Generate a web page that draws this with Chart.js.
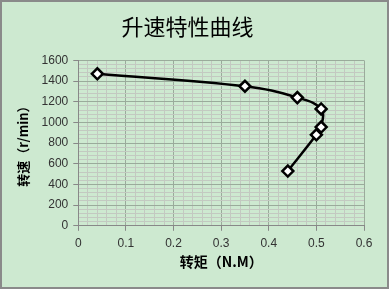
<!DOCTYPE html>
<html><head><meta charset="utf-8">
<script src="https://cdn.jsdelivr.net/npm/chart.js@4/dist/chart.umd.min.js"></script>
<style>html,body{margin:0;padding:0;background:#cde9d0;}#wrap{width:389px;height:289px;}</style>
</head><body><div id="wrap"><canvas id="c" width="389" height="289"></canvas></div>
<script>
const torque = [0.04, 0.35, 0.46, 0.51, 0.51, 0.50, 0.44];
const speed = [1470, 1350, 1240, 1130, 955, 880, 530];
const xTicks = [0, 0.1, 0.2, 0.3, 0.4, 0.5, 0.6];
const yTicks = [0, 200, 400, 600, 800, 1000, 1200, 1400, 1600];
const titleText = '升速特性曲线';
const xTitle = '转矩（N.M）';
const yTitle = '转速（r/min）';

const pts = torque.map((x, i) => ({x: x, y: speed[i]}));
const isMajorX = v => xTicks.some(t => Math.abs(t - v) < 1e-6);
const isMajorY = v => yTicks.some(t => Math.abs(t - v) < 1e-6);

const bgPlugin = {
  id: 'bg',
  beforeDraw(chart) {
    const ctx = chart.ctx;
    ctx.save();
    ctx.fillStyle = '#cde9d0';
    ctx.fillRect(0, 0, chart.width, chart.height);
    ctx.strokeStyle = '#8a8a8a';
    ctx.lineWidth = 2;
    ctx.strokeRect(1, 1, chart.width - 2, chart.height - 2);
    ctx.restore();
  }
};

new Chart(document.getElementById('c'), {
  type: 'scatter',
  data: {
    datasets: [{
      data: pts,
      showLine: true,
      tension: 0.4,
      borderColor: '#000',
      borderWidth: 2.5,
      pointStyle: 'rectRot',
      pointRadius: 5.5,
      pointBorderWidth: 2.5,
      pointBackgroundColor: '#fff',
      pointBorderColor: '#000'
    }]
  },
  options: {
    responsive: false,
    animation: false,
    devicePixelRatio: 1,
    layout: {padding: {left: 11, right: 25, top: 4, bottom: 15}},
    plugins: {
      legend: {display: false},
      tooltip: {enabled: false},
      title: {
        display: true, text: titleText, color: '#000',
        font: {family: '"Noto Sans CJK SC"', size: 22, weight: 'normal'},
        padding: {top: 9, bottom: 21}
      }
    },
    scales: {
      x: {
        type: 'linear', min: 0, max: 0.6,
        afterBuildTicks(axis) {
          const t = [];
          for (let i = 0; i <= 30; i++) t.push({value: Math.round(i * 2) / 100});
          axis.ticks = t;
        },
        ticks: {
          autoSkip: false, maxRotation: 0, color: '#333', padding: 6,
          font: {family: '"Liberation Sans"', size: 12},
          callback: v => isMajorX(v) ? String(Math.round(v * 10) / 10) : ''
        },
        grid: {
          color: c => isMajorX(c.tick.value) ? '#9aab9b' : '#c3c9c1',
          lineWidth: 1,
          tickLength: 5,
          tickColor: c => isMajorX(c.tick.value) ? '#888' : 'rgba(0,0,0,0)'
        },
        border: {color: '#888'},
        title: {display: true, text: xTitle, color: '#000',
          font: {family: '"Noto Sans CJK SC"', size: 14, weight: 'bold'}, padding: {top: -4, bottom: 4}}
      },
      y: {
        type: 'linear', min: 0, max: 1600,
        afterBuildTicks(axis) {
          const t = [];
          for (let i = 0; i <= 40; i++) t.push({value: i * 40});
          axis.ticks = t;
        },
        ticks: {
          autoSkip: false, color: '#333', padding: 5,
          font: {family: '"Liberation Sans"', size: 12},
          callback: v => isMajorY(v) ? String(v) : ''
        },
        grid: {
          color: c => isMajorY(c.tick.value) ? '#9aab9b' : '#c3c9c1',
          lineWidth: 1,
          tickLength: 5,
          tickColor: c => isMajorY(c.tick.value) ? '#888' : 'rgba(0,0,0,0)'
        },
        border: {color: '#888'},
        title: {display: true, text: yTitle, color: '#000',
          font: {family: '"Noto Sans CJK SC"', size: 13, weight: 'bold'}, padding: {top: 4, bottom: 6}}
      }
    }
  },
  plugins: [bgPlugin]
});
</script></body></html>
